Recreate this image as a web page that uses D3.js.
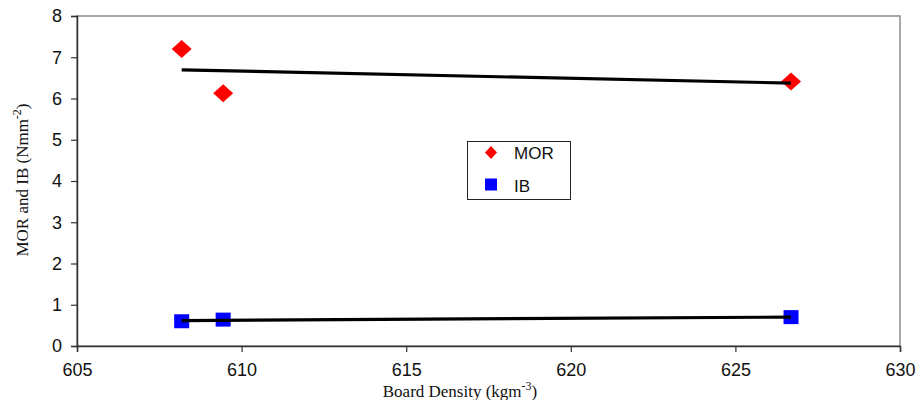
<!DOCTYPE html>
<html><head><meta charset="utf-8">
<script src="https://cdn.jsdelivr.net/npm/d3@7"></script>
<style>body{margin:0;background:#fff}svg{display:block}</style>
</head><body>
<script>
const densityMOR = [608.18, 609.44, 626.69];
const valuesMOR = [7.20, 6.13, 6.41];
const densityIB = [608.18, 609.44, 626.69];
const valuesIB = [0.60, 0.64, 0.70];
const xTicks = [605, 610, 615, 620, 625, 630];
const yTicks = [0, 1, 2, 3, 4, 5, 6, 7, 8];
const legendLabels = ["MOR", "IB"];

const W = 918, H = 400;
const m = {l: 77, r: 18, t: 16, b: 54};
const svg = d3.select("body").append("svg").attr("width", W).attr("height", H);
const x = d3.scaleLinear().domain([605, 630]).range([m.l, W - m.r]);
const y = d3.scaleLinear().domain([0, 8]).range([H - m.b, m.t]);

svg.append("rect").attr("x", x(605)).attr("y", y(8)).attr("width", x(630) - x(605)).attr("height", y(0) - y(8))
  .attr("fill", "none").attr("stroke", "#8c8c8c").attr("stroke-width", 1.5);

const xAxis = svg.append("g").attr("transform", `translate(0,${y(0)})`)
  .call(d3.axisBottom(x).tickValues(xTicks).tickSize(6).tickPadding(11).tickFormat(d3.format("d")));
const yAxis = svg.append("g").attr("transform", `translate(${x(605)},0)`)
  .call(d3.axisLeft(y).tickValues(yTicks).tickSize(6).tickPadding(9).tickFormat(d3.format("d")));
[xAxis, yAxis].forEach(g => {
  g.select(".domain").attr("stroke", "#333").attr("stroke-width", 1.5);
  g.selectAll(".tick line").attr("stroke", "#333").attr("stroke-width", 1.2);
  g.selectAll("text").attr("font-family", "Liberation Sans, Arial, sans-serif").attr("font-size", 18).attr("fill", "#111");
});

function fit(xs, ys) {
  const n = xs.length, mx = d3.mean(xs), my = d3.mean(ys);
  let sxy = 0, sxx = 0;
  for (let i = 0; i < n; i++) { sxy += (xs[i]-mx)*(ys[i]-my); sxx += (xs[i]-mx)**2; }
  const b = sxy / sxx, a = my - b*mx;
  const x0 = d3.min(xs), x1 = d3.max(xs);
  return [[x0, a + b*x0], [x1, a + b*x1]];
}
const line = d3.line().x(d => x(d[0])).y(d => y(d[1]));

const diamond = (cx, cy) => `M${cx},${cy-9}L${cx+10},${cy}L${cx},${cy+9}L${cx-10},${cy}Z`;
svg.selectAll(".mor").data(densityMOR.map((d, i) => [d, valuesMOR[i]])).enter().append("path")
  .attr("d", d => diamond(x(d[0]), y(d[1]))).attr("fill", "#ff0000");
svg.selectAll(".ib").data(densityIB.map((d, i) => [d, valuesIB[i]])).enter().append("rect")
  .attr("x", d => x(d[0]) - 7.5).attr("y", d => y(d[1]) - 7).attr("width", 15).attr("height", 14).attr("fill", "#0000ff");

svg.append("path").attr("d", line(fit(densityMOR, valuesMOR))).attr("stroke", "#000").attr("stroke-width", 3.2).attr("fill", "none");
svg.append("path").attr("d", line(fit(densityIB, valuesIB))).attr("stroke", "#000").attr("stroke-width", 3.2).attr("fill", "none");

const lg = svg.append("g");
lg.append("rect").attr("x", 467.5).attr("y", 141.5).attr("width", 103).attr("height", 58).attr("fill", "#fff").attr("stroke", "#222").attr("stroke-width", 1);
lg.append("path").attr("d", `M491,146L497,152.5L491,159L485,152.5Z`).attr("fill", "#ff0000");
lg.append("rect").attr("x", 485).attr("y", 178.5).attr("width", 12).attr("height", 12).attr("fill", "#0000ff");
lg.selectAll("text").data(legendLabels).enter().append("text")
  .attr("x", 514).attr("y", (d, i) => 158.5 + i * 33).text(d => d)
  .attr("font-family", "Liberation Sans, Arial, sans-serif").attr("font-size", 17).attr("fill", "#111");

const xt = svg.append("text").attr("x", 460).attr("y", 397).attr("text-anchor", "middle")
  .attr("font-family", "Liberation Serif, Times New Roman, serif").attr("font-size", 17).attr("fill", "#111");
xt.append("tspan").text("Board Density (kgm");
xt.append("tspan").attr("dy", -7).attr("font-size", 12).text("-3");
xt.append("tspan").attr("dy", 7).text(")");

const yt = svg.append("text").attr("transform", "translate(28,180) rotate(-90)").attr("text-anchor", "middle")
  .attr("font-family", "Liberation Serif, Times New Roman, serif").attr("font-size", 17).attr("fill", "#111");
yt.append("tspan").text("MOR and IB (Nmm");
yt.append("tspan").attr("dy", -7).attr("font-size", 12).text("-2");
yt.append("tspan").attr("dy", 7).text(")");
</script>
</body></html>
